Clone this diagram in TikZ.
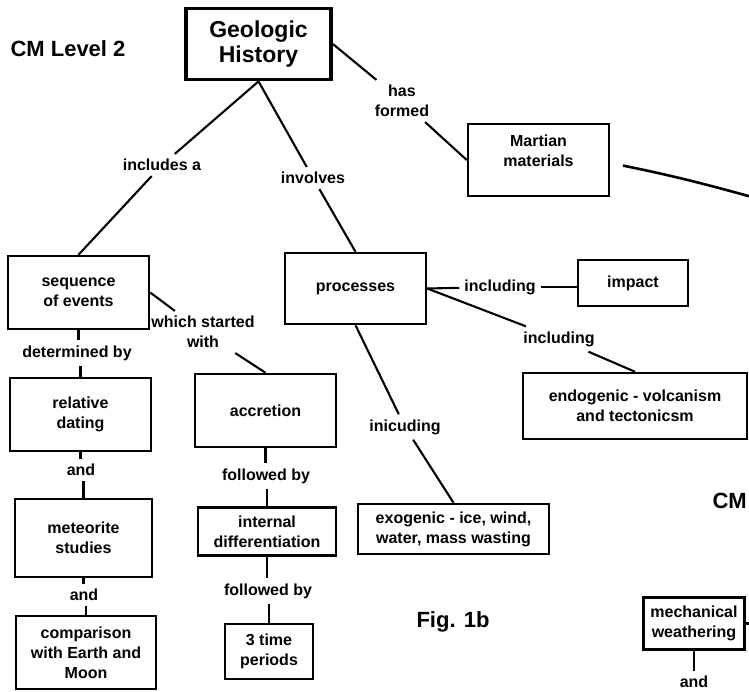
\documentclass[tikz,border=0pt]{standalone}
\usepackage{fontspec}
\setmainfont{Liberation Sans}
\usetikzlibrary{calc}
\begin{document}
\begin{tikzpicture}[x=1pt,y=-1pt,
  txt/.style={font=\bfseries\fontsize{16}{20}\selectfont, align=center},
  box/.style={txt, draw, line width=2.5pt, inner sep=1pt},
  lbl/.style={txt, inner sep=5pt},
  big/.style={font=\bfseries\fontsize{22}{24}\selectfont},
  conn/.style={line width=2.1pt}]
\useasboundingbox (0,0) rectangle (749,691);

% boxes
\node[box, line width=3.8pt, minimum width=145pt, minimum height=71pt,
      font=\bfseries\fontsize{23}{25}\selectfont] (gh) at (258.5,44) {Geologic\\History};
\node[box, minimum width=141pt, minimum height=72pt] (mars) at (538.5,160) {};
\node[txt, inner sep=0pt] (marsT) at (538.5,151) {Martian\\materials};
\node[box, minimum width=110pt, minimum height=46pt] (impact) at (633,283) {impact};
\node[box, minimum width=141pt, minimum height=71pt] (proc) at (355.5,288.5) {processes};
\node[box, minimum width=141pt, minimum height=73pt] (seq) at (78.5,292.5) {sequence\\of events};
\node[box, minimum width=141pt, minimum height=73pt] (reld) at (80.5,414.5) {relative\\dating};
\node[box, minimum width=141pt, minimum height=73pt] (acc) at (265.5,410.5) {accretion};
\node[box, minimum width=137pt, minimum height=78pt] (met) at (83.5,538) {meteorite\\studies};
\node[box, minimum width=140pt, minimum height=73pt] (comp) at (86,652.5) {comparison\\with Earth and\\Moon};
\node[box, minimum width=138pt, minimum height=48pt] (intd) at (267,531.5) {internal\\differentiation};
\node[box, minimum width=88pt, minimum height=55pt] (tp) at (269,651.5) {3 time\\periods};
\node[box, minimum width=224pt, minimum height=66pt] (endo) at (635,406) {endogenic - volcanism\\and tectonicsm};
\node[box, minimum width=191pt, minimum height=50pt] (exo) at (453.5,529) {exogenic - ice, wind,\\water, mass wasting};
\node[box, minimum width=101pt, minimum height=52pt, inner sep=0pt] (mech) at (694,623.5) {mechanical\\weathering};

% free texts
\node[big, anchor=west] (cm) at (7,49) {CM Level 2};
\node[big] (fig) at (453,622) {Fig. 1b};
\node[big, anchor=east, inner sep=0pt] (cm2) at (747,501) {CM};

% link labels
\node[lbl] (inc) at (162,165) {includes a};
\node[lbl] (inv) at (313,178) {involves};
\node[lbl] (hasf) at (402,101) {has\\formed};
\node[lbl] (inc1) at (500,287) {including};
\node[lbl] (inc2) at (559,339) {including};
\node[lbl] (inic) at (405,427) {inicuding};
\node[lbl] (wsw) at (203,332) {which started\\with};
\node[lbl] (det) at (77,353) {determined by};
\node[lbl] (and1) at (81,470) {and};
\node[lbl] (and2) at (84,595) {and};
\node[lbl] (fb1) at (266,476) {followed by};
\node[lbl] (fb2) at (268,591) {followed by};
\node[lbl] (and3) at (694,682) {and};

\coordinate (medge) at (752,197);
\coordinate (mr) at (750,622);

% connectors
\draw[conn] (gh.south) -- (inc);
\draw[conn] (inc) -- (seq.north);
\draw[conn] (gh.south) -- (inv);
\draw[conn] (inv) -- (proc.north);
\draw[conn] (gh.east) -- (hasf);
\draw[conn] (hasf) -- (mars.west);
\draw[conn, line width=2.6pt, shorten <=13pt] ($(mars.east)+(0,3)$) to[bend left=2] (medge);
\draw[conn] (proc.east) -- (inc1);
\draw[conn] (inc1) -- (inc1 -| impact.west);
\draw[conn] (proc.east) -- (inc2);
\draw[conn] (inc2) -- (endo.north);
\draw[conn] (proc.south) -- (inic);
\draw[conn] (inic) -- (exo.north);
\draw[conn] (seq.east) -- (wsw);
\draw[conn] (wsw) -- (acc.north);
\draw[conn] (seq.south) -- (seq.south |- det.north);
\draw[conn] (det.south -| reld.north) -- (reld.north);
\draw[conn] (reld.south) -- (reld.south |- and1.north);
\draw[conn] (and1.south -| met.north) -- (met.north);
\draw[conn] (met.south) -- (met.south |- and2.north);
\draw[conn] (and2.south -| comp.north) -- (comp.north);
\draw[conn] (acc.south) -- (acc.south |- fb1.north);
\draw[conn] (fb1.south -| intd.north) -- (intd.north);
\draw[conn] (intd.south) -- (intd.south |- fb2.north);
\draw[conn] (fb2.south -| tp.north) -- (tp.north);
\draw[conn] (mech.south) -- (mech.south |- and3.north);
\draw[conn] (mech.east) -- (mech.east -| mr);
\end{tikzpicture}
\end{document}
